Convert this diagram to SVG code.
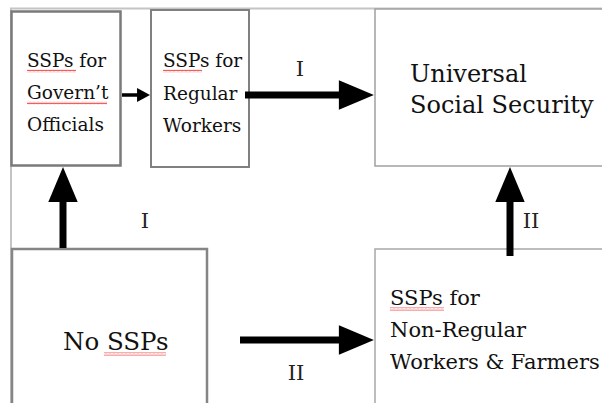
<svg xmlns="http://www.w3.org/2000/svg" width="602" height="403" viewBox="0 0 602 403">
<style>
.t{font-family:"DejaVu Serif","Liberation Serif",serif;fill:#111}
.box{fill:#fff}
.lbl{font-family:"DejaVu Serif","Liberation Serif",serif;fill:#222;font-size:21px;text-anchor:middle}
.arr{stroke:#000;fill:none}
</style>
<defs>
<marker id="big" markerUnits="strokeWidth" markerWidth="5" markerHeight="4.2" refX="0.3" refY="2.1" orient="auto" overflow="visible">
<path d="M0,0 L5,2.1 L0,4.2 z" fill="#000"/>
</marker>
<marker id="small" markerUnits="strokeWidth" markerWidth="3.7" markerHeight="4" refX="0.3" refY="2" orient="auto" overflow="visible">
<path d="M0,0 L3.7,2 L0,4 z" fill="#000"/>
</marker>
<pattern id="wave" width="4" height="3" patternUnits="userSpaceOnUse">
<path d="M0,2.3 L1,0.7 L2,2.3 L3,0.7 L4,2.3" fill="none" stroke="#e33" stroke-width="0.8"/>
</pattern>
</defs>
<rect width="602" height="403" fill="#fff"/>
<g id="frame">
<path d="M11,403 V8.5 H602" fill="none" stroke="#c4c4c4" stroke-width="2"/>
</g>
<g id="node-govt">
<rect class="box" x="11.5" y="11.5" width="109" height="154" stroke="#7a7a7a" stroke-width="2.5"/>
<text class="t" font-size="18.5" x="27" y="67">SSPs for</text>
<text class="t" font-size="18.5" x="27" y="99">Govern’t</text>
<text class="t" font-size="18.5" x="27" y="131">Officials</text>
<rect x="27" y="69.5" width="49" height="3" fill="url(#wave)"/>
<rect x="27" y="101.5" width="80" height="3" fill="url(#wave)"/>
</g>
<g id="node-regular">
<rect class="box" x="151" y="10" width="98" height="157" stroke="#808080" stroke-width="2"/>
<text class="t" font-size="18.5" x="163" y="67">SSPs for</text>
<text class="t" font-size="18.5" x="163" y="100">Regular</text>
<text class="t" font-size="18.5" x="163" y="132">Workers</text>
<rect x="163" y="69.5" width="39" height="3" fill="url(#wave)"/>
</g>
<g id="node-universal">
<rect class="box" x="375" y="9" width="240" height="157" stroke="#a0a0a0" stroke-width="1.5"/>
<text class="t" font-size="24" x="410" y="82">Universal</text>
<text class="t" font-size="24" x="410" y="113">Social Security</text>
</g>
<g id="node-none">
<rect class="box" x="12" y="249" width="195" height="170" stroke="#858585" stroke-width="2.5"/>
<text class="t" font-size="24.5" x="63" y="350">No SSPs</text>
<rect x="104" y="352.5" width="62" height="3" fill="url(#wave)"/>
</g>
<g id="node-nonregular">
<rect class="box" x="375" y="249" width="240" height="170" stroke="#a8a8a8" stroke-width="1.5"/>
<text class="t" font-size="21" x="390" y="305">SSPs for</text>
<text class="t" font-size="21" x="390" y="337">Non-Regular</text>
<text class="t" font-size="21" x="390" y="369">Workers &amp; Farmers</text>
<rect x="390" y="307.5" width="54" height="3" fill="url(#wave)"/>
</g>
<g id="connectors">
<line class="arr" x1="122" y1="95" x2="138.1" y2="95" stroke-width="3.5" marker-end="url(#small)"/>
<line class="arr" x1="245" y1="95" x2="341" y2="95" stroke-width="7" marker-end="url(#big)"/>
<line class="arr" x1="63" y1="248" x2="63" y2="200" stroke-width="7" marker-end="url(#big)"/>
<line class="arr" x1="240" y1="340" x2="341" y2="340" stroke-width="7" marker-end="url(#big)"/>
<line class="arr" x1="510" y1="256" x2="510" y2="200" stroke-width="7" marker-end="url(#big)"/>
<text class="lbl" x="300" y="76">I</text>
<text class="lbl" x="145" y="228">I</text>
<text class="lbl" x="296" y="380">II</text>
<text class="lbl" x="531" y="228">II</text>
</g>
</svg>
